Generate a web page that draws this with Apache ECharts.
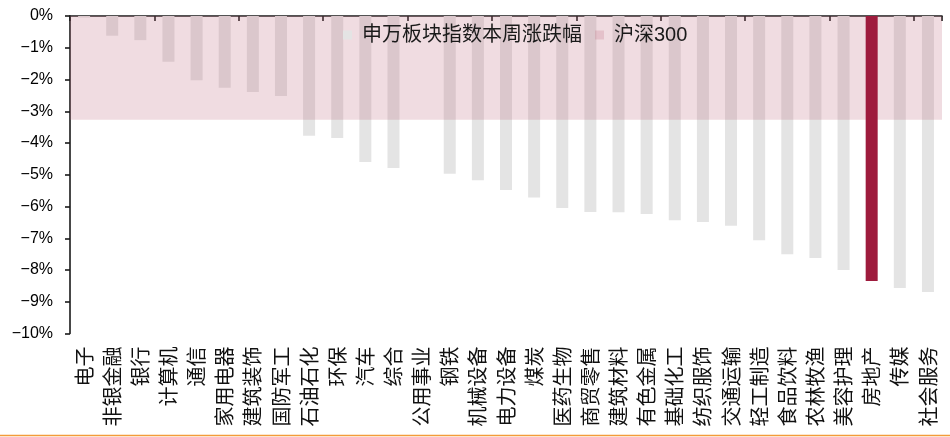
<!DOCTYPE html>
<html>
<head>
<meta charset="utf-8">
<script src="https://cdn.jsdelivr.net/npm/echarts@6/dist/echarts.min.js"></script>
<style>
  html, body { margin: 0; padding: 0; background: #ffffff; }
  #chart { width: 950px; height: 437px; }
</style>
</head>
<body>
<div id="chart"></div>
<script>
// 申万一级行业本周涨跌幅（%），按跌幅排序
const sectors = ['电子', '非银金融', '银行', '计算机', '通信', '家用电器', '建筑装饰', '国防军工',
  '石油石化', '环保', '汽车', '综合', '公用事业', '钢铁', '机械设备', '电力设备', '煤炭',
  '医药生物', '商贸零售', '建筑材料', '有色金属', '基础化工', '纺织服饰', '交通运输',
  '轻工制造', '食品饮料', '农林牧渔', '美容护理', '房地产', '传媒', '社会服务'];
const weeklyChange = [-0.05, -0.62, -0.76, -1.44, -2.02, -2.26, -2.39, -2.52,
  -3.77, -3.84, -4.60, -4.79, null, -4.97, -5.17, -5.48, -5.72,
  -6.05, -6.17, -6.18, -6.24, -6.43, -6.49, -6.61,
  -7.06, -7.50, -7.62, -8.00, -8.35, -8.57, -8.69];
// 沪深300 本周涨跌幅（%）
const hs300Change = [-3.27];
const highlightSector = '房地产';
const yTicks = { min: -10, max: 0, step: 1 };

const sectorName = '申万板块指数本周涨跌幅';
const indexName = '沪深300';

const greyData = weeklyChange.map((v, i) => sectors[i] === highlightSector ? null : v);
const redData = weeklyChange.map((v, i) => sectors[i] === highlightSector ? v : null);

const latin = '"Liberation Sans", Arial, "Noto Sans CJK SC", sans-serif';
const cjk = '"Noto Sans CJK SC", "Liberation Sans", sans-serif';

const chart = echarts.init(document.getElementById('chart'), null, { renderer: 'canvas' });
chart.setOption({
  animation: false,
  backgroundColor: '#ffffff',
  grid: { left: 70, right: 8, top: 16, bottom: 103.5, containLabel: false },
  legend: {
    left: 338, top: 20,
    itemWidth: 9, itemHeight: 9, itemGap: 13,
    icon: 'rect',
    data: [sectorName, indexName],
    textStyle: { fontFamily: latin, fontSize: 20, color: '#1a1a1a', padding: [0, 0, 0, 5] }
  },
  xAxis: [
    {
      // 行业名称（竖排，位于底部）
      type: 'category', position: 'bottom', data: sectors,
      axisLine: { show: false }, axisTick: { show: false },
      axisLabel: {
        rotate: 90, interval: 0, margin: 13,
        fontFamily: cjk, fontSize: 20, color: '#111111'
      }
    },
    {
      // 零轴（顶部），刻度位于类目分界处
      type: 'category', position: 'top', data: sectors,
      axisLine: { show: true, lineStyle: { color: '#1a1a1a', width: 1.6 } },
      axisTick: { show: true, inside: true, length: 5, alignWithLabel: false,
        lineStyle: { color: '#1a1a1a', width: 1.6 } },
      axisLabel: { show: false }
    },
    {
      // 沪深300 阴影带所用的单类目轴
      type: 'category', position: 'top', data: [indexName], show: false
    }
  ],
  yAxis: {
    type: 'value', min: yTicks.min, max: yTicks.max, interval: yTicks.step,
    axisLine: { show: true, lineStyle: { color: '#1a1a1a', width: 1.6 } },
    axisTick: { show: true, length: 5, lineStyle: { color: '#1a1a1a', width: 1.6 } },
    splitLine: { show: false },
    axisLabel: {
      margin: 17, fontFamily: latin, fontSize: 16, color: '#000000',
      formatter: v => (v < 0 ? '\u2212' : '') + Math.abs(v) + '%'
    }
  },
  series: [
    {
      name: sectorName, type: 'bar', xAxisIndex: 0, data: greyData,
      barWidth: 12, barGap: '-100%', z: 2,
      itemStyle: { color: '#e4e4e4' }
    },
    {
      name: indexName, type: 'bar', xAxisIndex: 2, data: hs300Change,
      barWidth: '100%', z: 3,
      itemStyle: { color: 'rgba(190,103,125,0.23)' }
    },
    {
      name: highlightSector, type: 'bar', xAxisIndex: 0, data: redData,
      barWidth: 12, barGap: '-100%', z: 4,
      itemStyle: { color: '#9e1b3d' }
    }
  ],
  graphic: [
    {
      type: 'line', silent: true, z: 10,
      shape: { x1: 0, y1: 435.5, x2: 950, y2: 435.5 },
      style: { stroke: '#f39b3a', lineWidth: 1.5 }
    }
  ]
});
</script>
</body>
</html>
